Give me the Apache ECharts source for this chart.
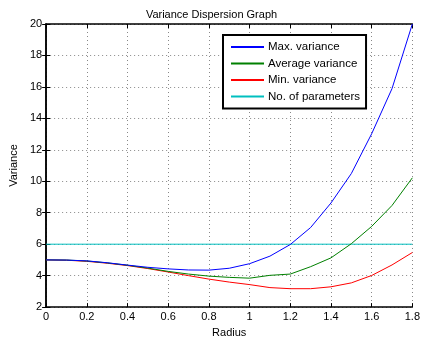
<!DOCTYPE html>
<html><head><meta charset="utf-8">
<script src="https://cdn.jsdelivr.net/npm/echarts@6/dist/echarts.min.js"></script>
<style>html,body{margin:0;padding:0;background:#fff}#c{width:423px;height:343px}</style>
</head><body><div id="c"></div>
<script>
const radius = [0,0.1,0.2,0.3,0.4,0.5,0.6,0.7,0.8,0.9,1.0,1.1,1.2,1.3,1.4,1.5,1.6,1.7,1.8];
const maxVar = [5.0,4.99,4.94,4.82,4.67,4.53,4.43,4.36,4.35,4.47,4.76,5.24,5.98,7.06,8.62,10.49,13.02,15.89,20.0];
const avgVar = [5.0,4.99,4.93,4.81,4.66,4.48,4.27,4.10,3.97,3.89,3.84,4.02,4.10,4.57,5.13,6.03,7.13,8.46,10.22];
const minVar = [5.0,4.98,4.91,4.79,4.64,4.45,4.23,4.00,3.78,3.59,3.43,3.24,3.17,3.17,3.29,3.54,4.01,4.68,5.47];
const nParams = [6,6,6,6,6,6,6,6,6,6,6,6,6,6,6,6,6,6,6];
const names = ['Max. variance','Average variance','Min. variance','No. of parameters'];
const colors = ['#0000ff','#008000','#ff0000','#00bfbf'];
const xTicks = {min:0,max:1.8,interval:0.2};
const yTicks = {min:2,max:20,interval:2};

const font = 'Liberation Sans, Arial, sans-serif';
const chart = echarts.init(document.getElementById('c'));
const pair = arr => radius.map((r,i)=>[r,arr[i]]);
const seriesData = [maxVar, avgVar, minVar, nParams];
const axLine = {show:true,lineStyle:{color:'#000',width:1.5}};
const tick = {show:true,inside:true,length:4,lineStyle:{color:'#000'}};
const split = {show:true,lineStyle:{color:'#888',type:[1,3],width:1}};
chart.setOption({
  animation:false,
  backgroundColor:'#fff',
  title:{text:'Variance Dispersion Graph',left:'center',top:4,textStyle:{fontFamily:font,fontSize:11,fontWeight:'normal',color:'#000'}},
  grid:{left:46,right:9,top:24,bottom:29,containLabel:false},
  legend:{orient:'vertical',left:223,top:35,width:135,padding:[6,6,6,8],itemGap:4.5,itemWidth:33,itemHeight:2,icon:'rect',
    backgroundColor:'#fff',borderColor:'#000',borderWidth:2,
    textStyle:{fontFamily:font,fontSize:11.5,color:'#000',padding:[0,0,0,-1]},data:names},
  xAxis:[
    {type:'value',min:xTicks.min,max:xTicks.max,interval:xTicks.interval,position:'bottom',
     name:'Radius',nameLocation:'middle',nameGap:17,nameTextStyle:{fontFamily:font,fontSize:11,color:'#000'},
     axisLine:axLine,axisTick:tick,splitLine:split,
     axisLabel:{fontFamily:font,fontSize:11,color:'#000',margin:4,showMinLabel:true,showMaxLabel:true}},
    {type:'value',min:xTicks.min,max:xTicks.max,interval:xTicks.interval,position:'top',
     axisLine:axLine,axisTick:tick,splitLine:{show:false},axisLabel:{show:false}}
  ],
  yAxis:[
    {type:'value',min:yTicks.min,max:yTicks.max,interval:yTicks.interval,position:'left',
     name:'Variance',nameLocation:'middle',nameGap:21,nameTextStyle:{fontFamily:font,fontSize:11,color:'#000'},
     axisLine:axLine,axisTick:tick,splitLine:split,
     axisLabel:{fontFamily:font,fontSize:11,color:'#000',margin:4}},
    {type:'value',min:yTicks.min,max:yTicks.max,interval:yTicks.interval,position:'right',
     axisLine:axLine,axisTick:tick,splitLine:{show:false},axisLabel:{show:false}}
  ],
  series: seriesData.map((d,i)=>({
    name:names[i],type:'line',data:pair(d),symbol:'none',smooth:false,
    lineStyle:{color:colors[i],width:1},itemStyle:{color:colors[i]},z:i===3?1:(5-i)
  }))
});
</script></body></html>
